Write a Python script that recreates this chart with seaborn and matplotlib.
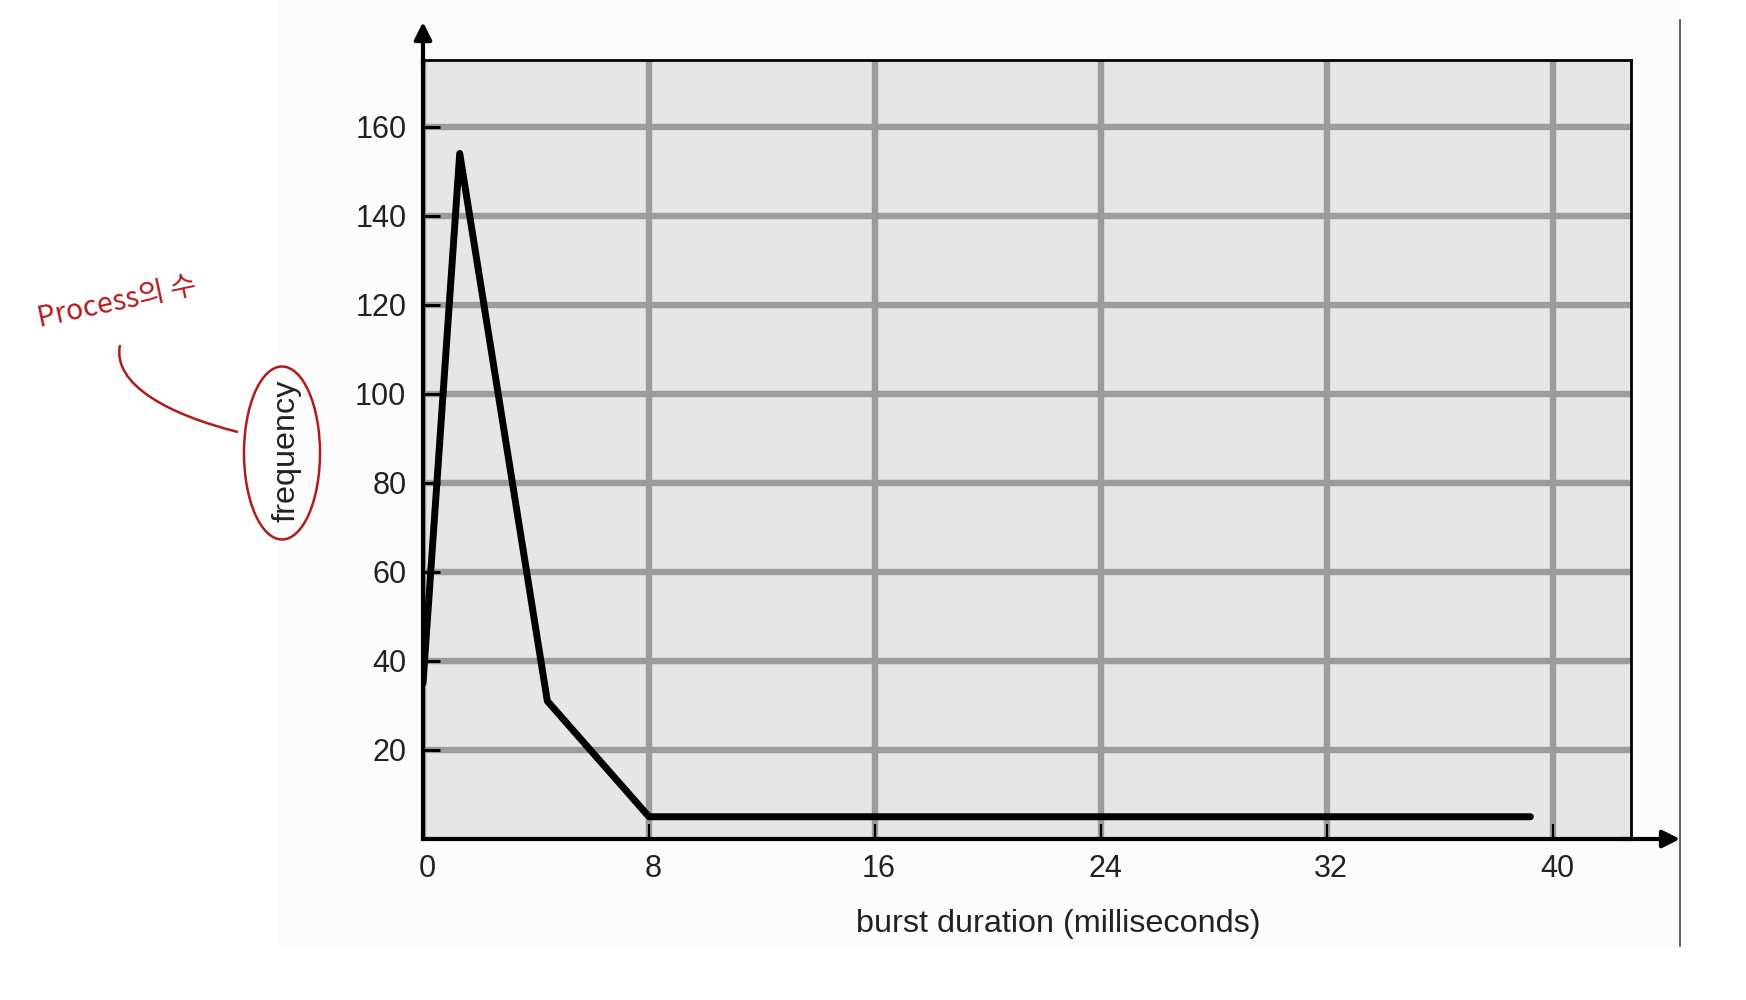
import matplotlib
matplotlib.use("Agg")
import pandas as pd
import seaborn as sns
from matplotlib import pyplot as plt
from matplotlib.patches import Ellipse, PathPatch, Rectangle
from matplotlib.path import Path
from matplotlib.lines import Line2D
from matplotlib.transforms import ScaledTranslation

# ===================================================================
# CPU burst histogram
# ===================================================================
burst_ms = [0, 1.3, 4.4, 8, 39.2]
frequency = [35, 154, 31, 5, 5]

x_ticks = [0, 8, 16, 24, 32, 40]
y_ticks = [20, 40, 60, 80, 100, 120, 140, 160]

x_label = "burst duration (milliseconds)"
y_label = "frequency"
note = "Process의 수"

df = pd.DataFrame({"burst": burst_ms, "freq": frequency})

sns.set_style("white")
plt.rcParams['font.family'] = ['Liberation Sans', 'DejaVu Sans']

fig = plt.figure(figsize=(17.46, 10), dpi=100)
W, H = 1746.0, 1000.0

# faint slide panel behind the chart
fig.add_artist(Rectangle((278 / W, 1 - 948 / H), (1680 - 278) / W, 948 / H,
                         transform=fig.transFigure, facecolor='#fcfcfc',
                         edgecolor='none', zorder=0))

ax = fig.add_axes([423 / W, 1 - 839 / H, (1631 - 423) / W, (839 - 60) / H])
ax.set_facecolor('#e6e6e6')

sns.lineplot(x="burst", y="freq", data=df, color='black', linewidth=5, ax=ax,
             zorder=3)

ax.set_xlim(0, 42.76)
ax.set_ylim(0, 175)
ax.set_xticks(x_ticks)
ax.set_yticks(y_ticks)
ax.set_xlabel('')
ax.set_ylabel('')
ax.grid(True, color='#9c9c9c', linewidth=4.6, zorder=1)
ax.set_axisbelow(True)

ax.tick_params(axis='y', direction='in', length=12, width=2.2, color='black',
               labelsize=22, labelcolor='#222222', pad=12, left=True)
ax.tick_params(axis='x', direction='in', length=11, width=1.6, color='black',
               labelsize=22, labelcolor='#222222', pad=11, bottom=True)
shift = ScaledTranslation(4 / 100, 0, fig.dpi_scale_trans)
for lab in ax.get_xticklabels():
    lab.set_transform(lab.get_transform() + shift)

for side in ['top', 'right']:
    ax.spines[side].set_linewidth(2.0)
    ax.spines[side].set_color('black')
for side in ['left', 'bottom']:
    ax.spines[side].set_linewidth(3.0)
    ax.spines[side].set_color('black')

# axis arrows
ax.annotate('', xy=(0, 1.0488), xytext=(0, 0.99), xycoords='axes fraction',
            arrowprops=dict(arrowstyle='-|>', color='black', lw=3,
                            mutation_scale=26, shrinkA=0, shrinkB=0))
ax.annotate('', xy=(1.0406, 0), xytext=(0.99, 0), xycoords='axes fraction',
            arrowprops=dict(arrowstyle='-|>', color='black', lw=3,
                            mutation_scale=26, shrinkA=0, shrinkB=0))

ax.text((1058 - 423) / 1208, -(924 - 839) / 779, x_label, transform=ax.transAxes,
        ha='center', va='center', fontsize=23.3, color='#222222')
ax.text((287 - 423) / 1208, (839 - 451) / 779, y_label, transform=ax.transAxes,
        ha='center', va='center', rotation=90, fontsize=23.3, color='#222222')

# thin separator line on the right
fig.add_artist(Line2D([1680 / W, 1680 / W], [1 - 20 / H, 1 - 946 / H],
                      transform=fig.transFigure, color='#666666', linewidth=1.5))

# red handwritten note
red = '#b01c1c'
fig.add_artist(Ellipse((282 / W, 1 - 453 / H), 76 / W, 173 / H,
                       transform=fig.transFigure, facecolor='none',
                       edgecolor=red, linewidth=1.8))
pts = [(120, 345), (112, 385), (170, 415), (238, 432)]
curve = Path([(px / W, 1 - py / H) for px, py in pts],
             [Path.MOVETO, Path.CURVE4, Path.CURVE4, Path.CURVE4])
fig.add_artist(PathPatch(curve, transform=fig.transFigure, facecolor='none',
                         edgecolor=red, linewidth=1.8))
fig.text(117 / W, 1 - 302 / H, note, ha='center', va='center', rotation=12,
         fontsize=20.5, color=red, family=['Noto Sans CJK KR', 'DejaVu Sans'])

plt.savefig('out.png', dpi=100)
